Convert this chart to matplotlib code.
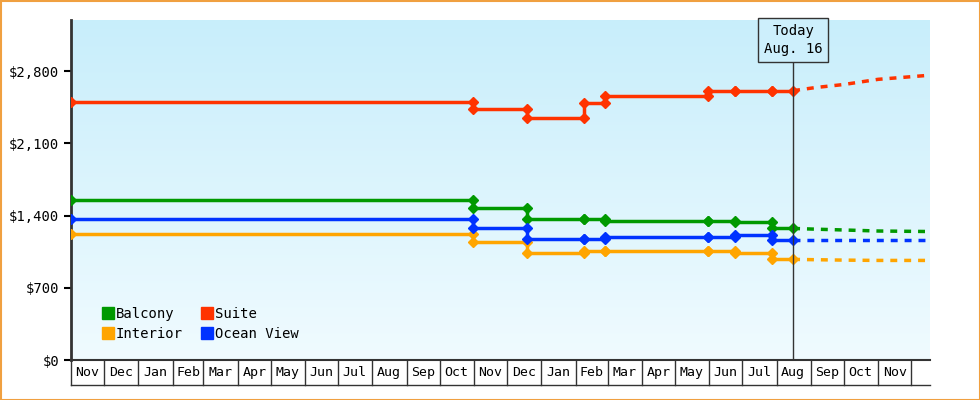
import matplotlib
matplotlib.use("Agg")
import matplotlib.pyplot as plt
import matplotlib.dates as mdates
from matplotlib.lines import Line2D
from matplotlib.patches import Rectangle
import numpy as np
import datetime as dt

plt.rcParams['font.family'] = ['DejaVu Sans Mono']

D = lambda s: dt.date.fromisoformat(s)
dates = ["2022-11-01", "2023-10-31", "2023-10-31", "2023-12-19", "2023-12-19", "2024-02-09", "2024-02-09",
         "2024-02-28", "2024-02-28", "2024-05-31", "2024-05-31", "2024-06-24", "2024-06-24", "2024-07-28", "2024-07-28", "2024-08-16"]
suite = [2500, 2500, 2430, 2430, 2350, 2350, 2490, 2490, 2555, 2555, 2610, 2610, 2610, 2610, 2610, 2610]
balcony = [1550, 1550, 1470, 1470, 1362, 1362, 1362, 1362, 1350, 1350, 1350, 1350, 1340, 1340, 1275, 1275]
ocean = [1365, 1365, 1275, 1275, 1175, 1175, 1175, 1175, 1195, 1195, 1195, 1195, 1210, 1210, 1160, 1160]
interior = [1220, 1220, 1140, 1140, 1033, 1033, 1053, 1053, 1060, 1060, 1060, 1060, 1040, 1040, 975, 975]

f_dates = ["2024-08-16", "2024-09-05", "2024-10-01", "2024-11-01", "2024-12-18"]
f_suite = [2610, 2640, 2670, 2720, 2760]
f_balcony = [1275, 1268, 1260, 1250, 1245]
f_ocean = [1160, 1160, 1160, 1160, 1160]
f_interior = [975, 972, 968, 965, 965]

series = [("Balcony", balcony, f_balcony, "#009900"),
          ("Interior", interior, f_interior, "#ffa500"),
          ("Suite", suite, f_suite, "#ff3300"),
          ("Ocean View", ocean, f_ocean, "#0033ff")]

fig = plt.figure(figsize=(9.8, 4), dpi=100)
fig.patch.set_facecolor("white")
fig.add_artist(Rectangle((0.5/980, 0.5/400), 979/980, 399/400, transform=fig.transFigure,
                         fill=False, edgecolor="#f0a040", lw=1.5))
ax = fig.add_axes([71/980, 40/400, 859/980, 340/400])
x0, x1 = D("2022-11-01"), D("2024-12-18")
ax.set_xlim(x0, x1)
ax.imshow(np.linspace(0, 1, 256).reshape(-1, 1), cmap=matplotlib.colors.LinearSegmentedColormap.from_list(
    "g", ["#c8eefb", "#f0fbff"]), aspect="auto", extent=[mdates.date2num(x0), mdates.date2num(x1), 0, 3295],
    zorder=0, origin="upper")
ax.set_ylim(0, 3295)

dd = [D(s) for s in dates]
fd = [D(s) for s in f_dates]
for name, v, fv, c in series:
    ax.plot(dd, v, color=c, lw=2.5, marker="D", ms=5.5, zorder=3)
    ax.plot(fd, fv, color=c, lw=2.5, ls=(0, (2, 2)), zorder=3)

yt = [0, 700, 1400, 2100, 2800]
ax.set_yticks(yt)
ax.set_yticklabels(["$" + format(t, ",") for t in yt], fontsize=10)
ax.tick_params(axis="y", length=5, width=1.5)
ax.set_xticks([])
for s in ["top", "right"]:
    ax.spines[s].set_visible(False)
ax.spines["left"].set_linewidth(2)
ax.spines["left"].set_color("#333333")
ax.spines["bottom"].set_linewidth(1.5)
ax.spines["bottom"].set_color("#333333")

trans = ax.get_xaxis_transform()
months = []
d = dt.date(2022, 11, 1)
while d < x1:
    months.append(d)
    d = dt.date(d.year + (d.month == 12), d.month % 12 + 1, 1)
cell_h = 25 / 340
for i, m in enumerate(months):
    nxt = months[i + 1] if i + 1 < len(months) else x1
    ax.plot([m, m], [0, -cell_h], transform=trans, color="#333333", lw=1, clip_on=False)
    mid = m + (nxt - m) / 2
    if i + 1 < len(months):
        ax.text(mid, -cell_h / 2, m.strftime("%b"), transform=trans, ha="center", va="center", fontsize=9.5)
ax.plot([x0, x1], [-cell_h, -cell_h], transform=trans, color="#333333", lw=1, clip_on=False)

today = D("2024-08-16")
ax.plot([today, today], [0, 1 - 40 / 340], transform=trans, color="#333333", lw=1, zorder=4)
ax.text(today, 1 - 20 / 340, "Today\nAug. 16", transform=trans, ha="center", va="center", fontsize=10,
        linespacing=1.4, bbox=dict(boxstyle="square,pad=0.4", fc="#cdeffc", ec="#333333", lw=1), zorder=5)

handles = [Line2D([], [], marker="s", ls="", color=c, ms=9, label=n) for n, _, _, c in series]
ax.legend(handles=handles, ncol=2, loc="lower left", bbox_to_anchor=(0.02, 0.02), frameon=False,
          handletextpad=0.1, columnspacing=1.2, fontsize=10, labelspacing=0.4, handlelength=1)

fig.savefig("out.png", dpi=100)
